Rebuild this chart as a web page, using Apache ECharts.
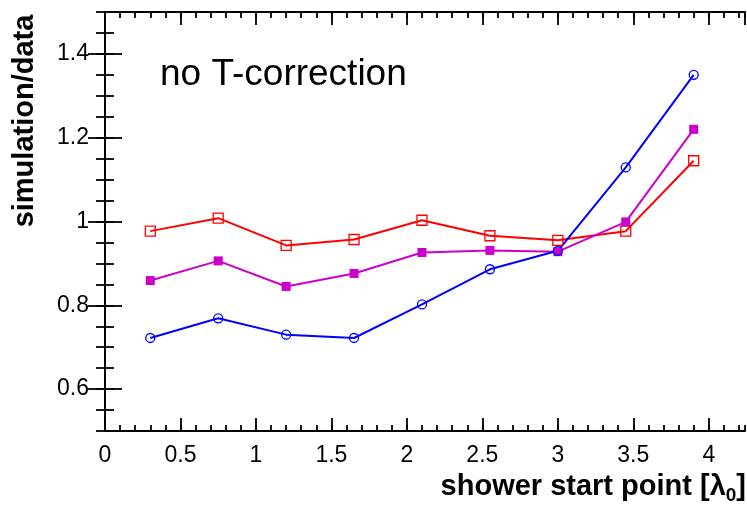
<!DOCTYPE html>
<html>
<head>
<meta charset="utf-8">
<script src="https://cdn.jsdelivr.net/npm/echarts@6/dist/echarts.min.js"></script>
<style>html,body{margin:0;padding:0;background:#fff;}#c{width:747px;height:505px;}</style>
</head>
<body>
<div id="c"></div>
<script>
// ---- data ----
const xValues = [0.3, 0.75, 1.2, 1.65, 2.1, 2.55, 3.0, 3.45, 3.9];
const redOpenSquares = [0.977, 1.008, 0.943, 0.957, 1.003, 0.966, 0.955, 0.977, 1.145];
const magentaFullSquares = [0.859, 0.906, 0.845, 0.876, 0.926, 0.931, 0.928, 0.999, 1.220];
const blueOpenCircles = [0.722, 0.769, 0.730, 0.722, 0.802, 0.886, 0.930, 1.129, 1.350];
const xMajorTicks = [0, 0.5, 1, 1.5, 2, 2.5, 3, 3.5, 4];
const yMajorTicks = [0.6, 0.8, 1, 1.2, 1.4];
const xTitle = 'shower start point [λ';
const xTitleSub = '0';
const yTitle = 'simulation/data';
const annotation = 'no T-correction';

const FONT = 'Liberation Sans, Arial, Helvetica, sans-serif';
const XMIN = 0, XMAX = 4.24, YMIN = 0.5, YMAX = 1.5;

function pairs(xs, ys) { return xs.map((x, i) => [x, ys[i]]); }

function xAxisDef(pos, major) {
  return {
    type: 'value', position: pos, min: XMIN, max: XMAX,
    interval: major ? 0.5 : 0.1,
    axisLine: { show: major, lineStyle: { color: '#000', width: 2 } },
    axisTick: { show: true, inside: true, length: major ? 13 : 6, lineStyle: { color: '#000', width: 1.8 } },
    axisLabel: {
      show: major && pos === 'bottom', color: '#000', fontSize: 23, fontFamily: FONT, margin: 13,
      showMaxLabel: false,
      formatter: v => (xMajorTicks.indexOf(+v.toFixed(2)) >= 0 ? String(+v.toFixed(2)) : '')
    },
    splitLine: { show: false }
  };
}
function yAxisDef(pos, major) {
  const d = {
    type: 'value', position: pos, min: YMIN, max: YMAX,
    axisLine: { show: major, lineStyle: { color: '#000', width: 2 } },
    axisTick: { show: true, inside: true, length: major ? 17 : 9, lineStyle: { color: '#000', width: 1.8 } },
    axisLabel: {
      show: major && pos === 'left', color: '#000', fontSize: 23, fontFamily: FONT, margin: 16,
      formatter: v => String(+(+v).toFixed(2))
    },
    splitLine: { show: false }
  };
  if (major) {
    d.axisTick.customValues = yMajorTicks;
    d.axisLabel.customValues = yMajorTicks;
  } else {
    d.interval = 0.05;
  }
  return d;
}

const chart = echarts.init(document.getElementById('c'), null, { renderer: 'canvas' });
chart.setOption({
  animation: false,
  backgroundColor: '#fff',
  grid: { left: 105, right: 2, top: 12, bottom: 74, containLabel: false },
  xAxis: [xAxisDef('bottom', true), xAxisDef('bottom', false), xAxisDef('top', true), xAxisDef('top', false)],
  yAxis: [yAxisDef('left', true), yAxisDef('left', false), yAxisDef('right', true), yAxisDef('right', false)],
  series: [
    {
      type: 'line', data: pairs(xValues, redOpenSquares), xAxisIndex: 0, yAxisIndex: 0,
      symbol: 'rect', symbolSize: 10,
      lineStyle: { color: '#ff0000', width: 2 },
      itemStyle: { color: 'rgba(255,255,255,0)', borderColor: '#ff0000', borderWidth: 1.3 }
    },
    {
      type: 'line', data: pairs(xValues, magentaFullSquares), xAxisIndex: 0, yAxisIndex: 0,
      symbol: 'rect', symbolSize: 9,
      lineStyle: { color: '#cc00cc', width: 2 },
      itemStyle: { color: '#cc00cc', borderWidth: 0 }
    },
    {
      type: 'line', data: pairs(xValues, blueOpenCircles), xAxisIndex: 0, yAxisIndex: 0,
      symbol: 'circle', symbolSize: 9,
      lineStyle: { color: '#0000ff', width: 2 },
      itemStyle: { color: 'rgba(255,255,255,0)', borderColor: '#0000ff', borderWidth: 1.3 }
    }
  ],
  graphic: [
    {
      type: 'text', left: 160, top: 56,
      style: { text: annotation, fontSize: 37, fontFamily: FONT, fill: '#000' }
    },
    {
      type: 'text', x: 25, y: 121, rotation: Math.PI / 2,
      style: { text: yTitle, fontSize: 29, fontWeight: 'bold', fontFamily: FONT, fill: '#000',
               align: 'center', verticalAlign: 'middle' }
    },
    {
      type: 'text', x: 746, y: 487,
      style: {
        text: '{a|' + xTitle + '}{s|' + xTitleSub + '}{a|]}',
        align: 'right', verticalAlign: 'middle',
        rich: {
          a: { fontSize: 29, fontWeight: 'bold', fontFamily: FONT, fill: '#000', lineHeight: 30 },
          s: { fontSize: 19, fontWeight: 'bold', fontFamily: FONT, fill: '#000', lineHeight: 30, padding: [18, 0, 0, 0] }
        }
      }
    }
  ]
});
</script>
</body>
</html>
